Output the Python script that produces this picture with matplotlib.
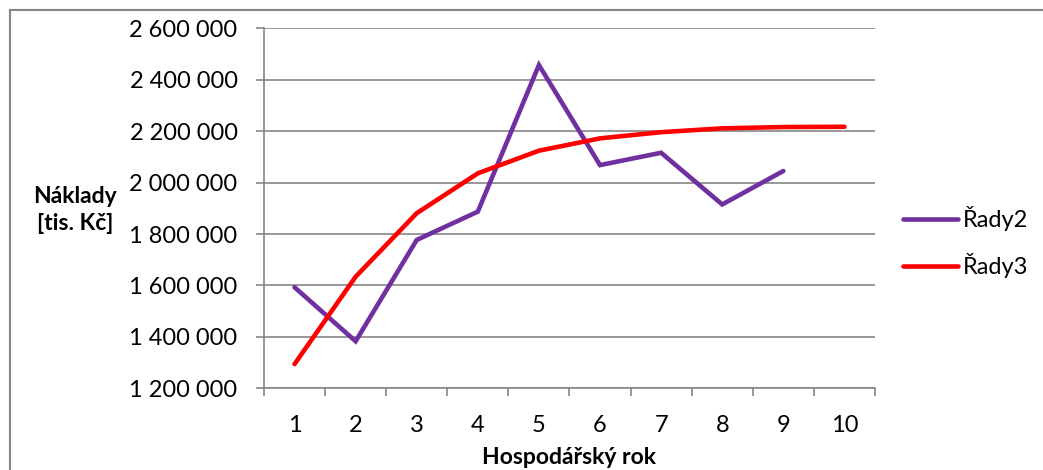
import matplotlib.pyplot as plt
from matplotlib.patches import Rectangle
from matplotlib.ticker import FuncFormatter, MultipleLocator

plt.rcParams['font.family'] = ['Lato', 'DejaVu Sans']

# Hospodářský rok 1-10
years = [1, 2, 3, 4, 5, 6, 7, 8, 9, 10]
rady2 = [1593000, 1383000, 1777000, 1887000, 2457000, 2068000, 2116000, 1915000, 2045000]
rady3 = [1294000, 1634000, 1881000, 2036000, 2124000, 2172000, 2196000, 2211000, 2216000, 2217000]

grid_col = '#868686'

fig = plt.figure(figsize=(10.43, 4.70), dpi=100)
ax = fig.add_axes([0.2531, 0.1738, 0.5858, 0.766])

ax.plot(years[:len(rady2)], rady2, color='#7030A0', lw=3.3, label='Řady2',
        solid_capstyle='round', solid_joinstyle='miter', zorder=3)
ax.plot(years, rady3, color='#FF0000', lw=3.3, label='Řady3',
        solid_capstyle='round', solid_joinstyle='round', zorder=3)

ax.set_xlim(0.5, 10.5)
ax.set_ylim(1200000, 2600000)
ax.yaxis.set_major_locator(MultipleLocator(200000))
ax.yaxis.set_major_formatter(FuncFormatter(lambda v, p: f"{v:,.0f}".replace(",", " ")))
ax.set_xticks(years)
ax.set_xticks([y - 0.5 for y in years] + [10.5], minor=True)

ax.grid(axis='y', color=grid_col, lw=1.2, zorder=1)
for s in ('top', 'right'):
    ax.spines[s].set_visible(False)
for s in ('left', 'bottom'):
    ax.spines[s].set_color(grid_col)
    ax.spines[s].set_linewidth(1.2)

ax.tick_params(axis='y', length=6, width=1.2, color=grid_col, pad=13, labelsize=17)
ax.tick_params(axis='x', which='major', length=0, pad=19, labelsize=17)
ax.tick_params(axis='x', which='minor', length=6, width=1.2, color=grid_col)

fig.text(75 / 1043, 1 - 210 / 470, 'Náklady\n[tis. Kč]', ha='center', va='center',
         fontsize=16.5, fontweight='bold', linespacing=1.4)
fig.text(569.5 / 1043, 1 - 458 / 470, 'Hospodářský rok', ha='center', va='center',
         fontsize=16.5, fontweight='bold')

ax.legend(loc='center left', bbox_to_anchor=(894 / 1043, 1 - 242 / 470),
          bbox_transform=fig.transFigure, frameon=False, fontsize=17,
          borderaxespad=0, handlelength=2.3, handletextpad=0.2, labelspacing=0.95)

# chart border
fig.patches.append(Rectangle((10 / 1043, -0.1), 1.2, 1.1 - 10 / 470,
                             transform=fig.transFigure, fill=False,
                             edgecolor=grid_col, lw=1.5))

fig.savefig('out.png', dpi=100)
